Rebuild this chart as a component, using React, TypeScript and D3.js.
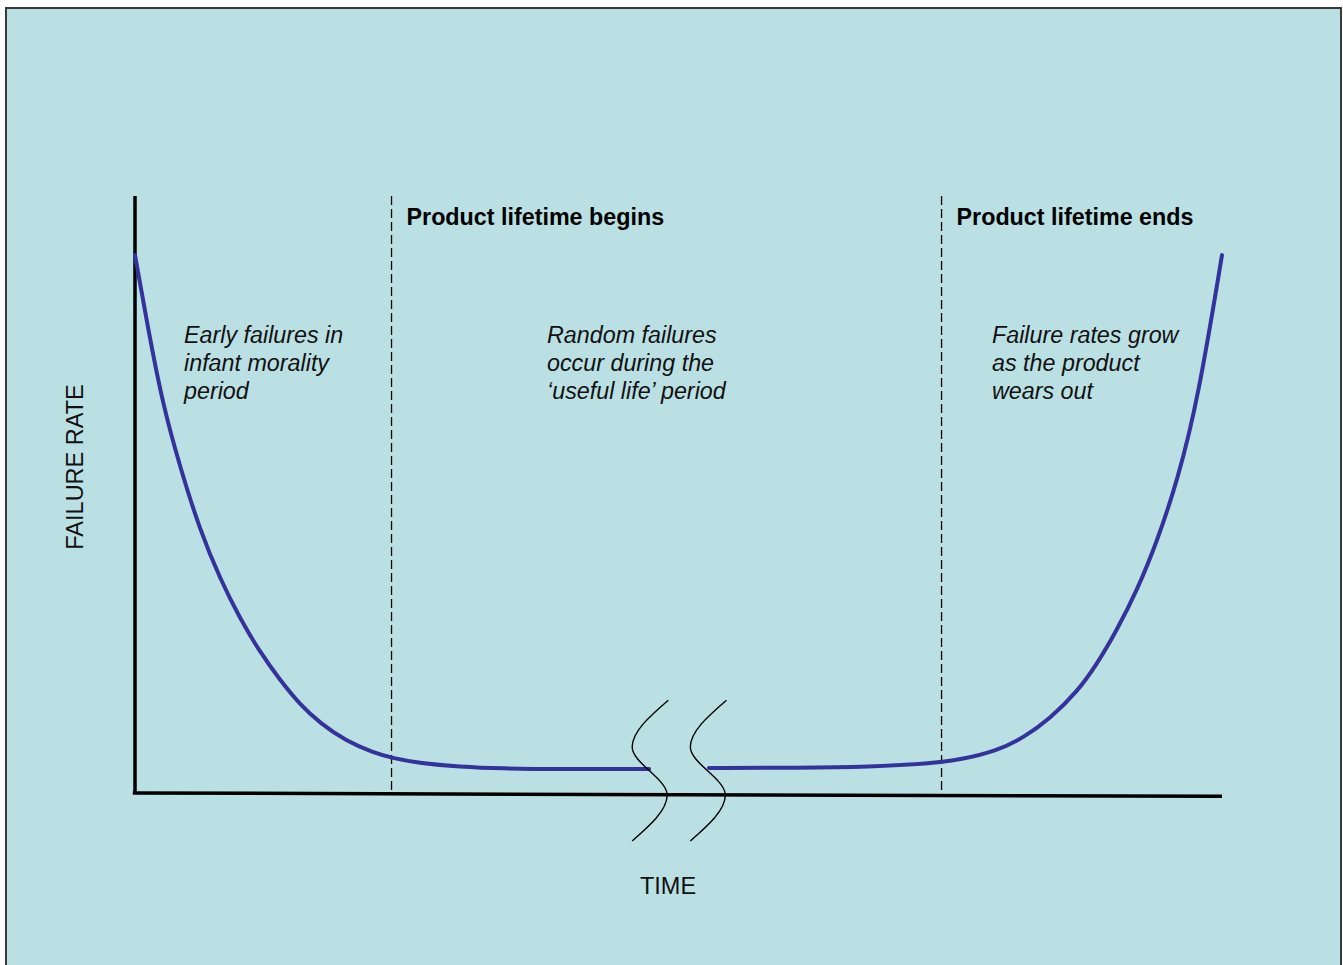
import React from "react";
import * as d3 from "d3";

// Time units (0–100) and failure rate units (0–100)
const earlyT = [0, 1.38, 2.58, 4.14, 5.98, 7.82, 9.66, 11.5, 13.34, 15.18, 17.02, 19.5, 21.9, 23.73, 26.2, 29.9, 33.6, 39.1, 47.3];
const earlyR = [90.1, 76.0, 65.0, 54.6, 44.0, 35.9, 29.2, 23.6, 18.9, 14.8, 11.7, 8.6, 6.8, 5.8, 5.0, 4.4, 4.1, 4.0, 4.0];
const lateT = [52.8, 61.2, 67.6, 73.1, 76.0, 79.3, 81.7, 84.2, 86.7, 88.5, 90.3, 92.2, 94.0, 95.9, 97.8, 100];
const lateR = [4.2, 4.2, 4.4, 4.9, 5.6, 7.1, 9.2, 12.5, 17.0, 21.6, 27.2, 34.0, 42.0, 52.3, 66.0, 90.1];

const phaseLines = [23.6, 74.2];
const phaseTitles = ["Product lifetime begins", "Product lifetime ends"];
const breakCenters = [47.4, 52.75];
const breakDT = [1.66, -1.66, 1.56, -1.66];
const breakDR = [11.7, 3.85, -4.2, -11.9];
const breakCenterR = 3.85;

const notes = [
  ["Early failures in", "infant morality", "period"],
  ["Random failures", "occur during the", "\u2018useful life\u2019 period"],
  ["Failure rates grow", "as the product", "wears out"],
];

const W = 1343;
const H = 965;
const x = d3.scaleLinear().domain([0, 100]).range([135, 1222]);
const y = d3.scaleLinear().domain([0, 100]).range([793, 196]);

const curveLine = d3
  .line<[number, number]>()
  .x((d) => x(d[0]))
  .y((d) => y(d[1]))
  .curve(d3.curveBasis);

const breakLine = d3
  .line<[number, number]>()
  .x((d) => x(d[0]))
  .y((d) => y(d[1]))
  .curve(d3.curveMonotoneY);

const straight = d3
  .line<[number, number]>()
  .x((d) => x(d[0]))
  .y((d) => y(d[1]));

export default function App() {
  const early = earlyT.map((t, i) => [t, earlyR[i]] as [number, number]);
  const late = lateT.map((t, i) => [t, lateR[i]] as [number, number]);
  const font = "'Liberation Sans', Arial, sans-serif";
  const noteX = [184, 547, 992];
  return (
    <svg
      width={W}
      height={H}
      style={{ position: "absolute", left: 0, top: 0, display: "block" }}
    >
      <rect x={0} y={0} width={W} height={H} fill="#ffffff" />
      <rect x={6} y={8} width={1335} height={H + 10} fill="#bae0e3" stroke="#3a3a3a" strokeWidth={2} />

      {/* axes */}
      <path d={straight([[0, 0], [0, 100]]) || ""} stroke="#000" strokeWidth={3.5} fill="none" />
      <path d={straight([[-0.2, 0], [100, -0.55]]) || ""} stroke="#000" strokeWidth={3.5} fill="none" />

      {/* phase lines */}
      {phaseLines.map((t, i) => (
        <g key={i}>
          <line x1={x(t)} x2={x(t)} y1={y(100)} y2={y(0)} stroke="#000" strokeWidth={1.3} strokeDasharray="9,4" />
          <text x={x(t) + 15} y={225} fontFamily={font} fontWeight="bold" fontSize={23.3} fill="#000">
            {phaseTitles[i]}
          </text>
        </g>
      ))}

      {/* curve */}
      <path d={curveLine(early) || ""} stroke="#33339b" strokeWidth={4} fill="none" strokeLinecap="round" />
      <path d={curveLine(late) || ""} stroke="#33339b" strokeWidth={4} fill="none" strokeLinecap="round" />

      {/* break marks */}
      {breakCenters.map((c, i) => (
        <path
          key={i}
          d={breakLine(breakDT.map((dt, j) => [c + dt, breakCenterR + breakDR[j]] as [number, number])) || ""}
          stroke="#000"
          strokeWidth={1.4}
          fill="none"
        />
      ))}

      {/* notes */}
      {notes.map((lines, i) => (
        <text key={i} fontFamily={font} fontStyle="italic" fontSize={23.3} fill="#111">
          {lines.map((l, j) => (
            <tspan key={j} x={noteX[i]} y={343 + j * 28}>
              {l}
            </tspan>
          ))}
        </text>
      ))}

      {/* axis labels */}
      <text
        transform="translate(83,467) rotate(-90)"
        textAnchor="middle"
        fontFamily={font}
        fontSize={23.5}
        fill="#111"
      >
        FAILURE RATE
      </text>
      <text x={668} y={894} textAnchor="middle" fontFamily={font} fontSize={23.5} fill="#111">
        TIME
      </text>
    </svg>
  );
}
